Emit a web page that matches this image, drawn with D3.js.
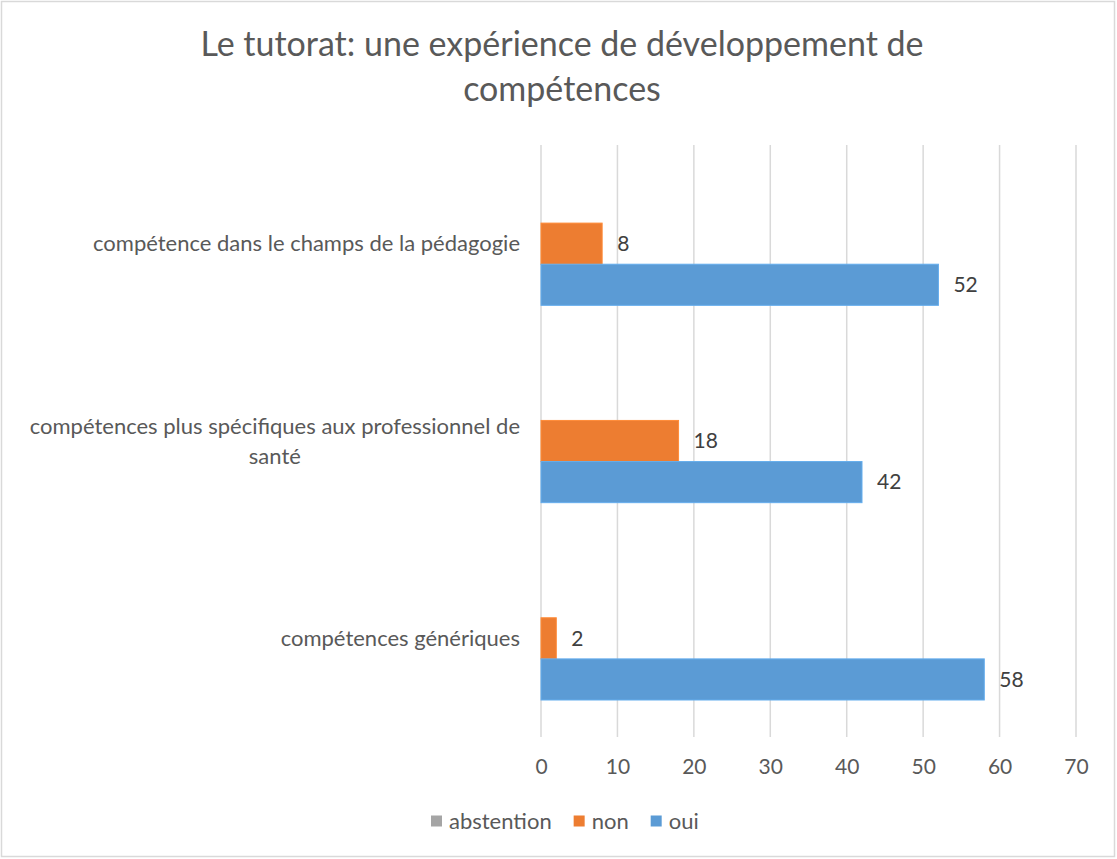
<!DOCTYPE html>
<html>
<head>
<meta charset="utf-8">
<script src="https://cdn.jsdelivr.net/npm/d3@7"></script>
<style>
  html, body { margin: 0; padding: 0; background: #fff; }
  svg { display: block; font-family: Lato, "Liberation Sans", sans-serif; }
</style>
</head>
<body>
<svg></svg>
<script>
const categories = [
    "compétence dans le champs de la pédagogie",
    "compétences plus spécifiques aux professionnel de santé",
    "compétences génériques"
];
const seriesNames = ["abstention", "non", "oui"];
const abstention = [0, 0, 0];
const non = [8, 18, 2];
const oui = [52, 42, 58];
const tickValues = [0, 10, 20, 30, 40, 50, 60, 70];
const titleLines = ["Le tutorat: une expérience de développement de", "compétences"];

const colors = { abstention: "#A5A5A5", non: "#ED7D31", oui: "#5B9BD5" };
const valuesBySeries = { abstention, non, oui };

const width = 1117, height = 859;
const svg = d3.select("svg").attr("width", width).attr("height", height);

svg.append("rect")
    .attr("x", 1.5).attr("y", 1.5)
    .attr("width", width - 4).attr("height", height - 4)
    .attr("fill", "#fff").attr("stroke", "#d9d9d9").attr("stroke-width", 1.5);

const plot = { left: 541, right: 1076, top: 145, bottom: 737 };

const x = d3.scaleLinear().domain([0, 70]).range([plot.left, plot.right]);
const y = d3.scaleBand()
    .domain(categories)
    .range([plot.top, plot.bottom])
    .paddingInner(0.375)
    .paddingOuter(0.1875);
const ySub = d3.scaleBand().domain(seriesNames).range([0, y.bandwidth()]);

// title
svg.append("text")
    .attr("x", 562).attr("y", 56)
    .attr("text-anchor", "middle")
    .attr("fill", "#595959")
    .style("font-size", "34px")
    .selectAll("tspan")
    .data(titleLines)
    .enter().append("tspan")
    .attr("x", 562)
    .attr("dy", (d, i) => i === 0 ? 0 : 45)
    .text(d => d);

// gridlines
svg.append("g")
    .selectAll("line")
    .data(tickValues)
    .enter().append("line")
    .attr("x1", d => x(d)).attr("x2", d => x(d))
    .attr("y1", plot.top).attr("y2", plot.bottom)
    .attr("stroke", "#d9d9d9").attr("stroke-width", 1.5);

// x axis labels
const xAxis = svg.append("g")
    .attr("transform", `translate(0,${plot.bottom})`)
    .call(d3.axisBottom(x).tickValues(tickValues).tickSize(0).tickPadding(22));
xAxis.select(".domain").remove();
xAxis.selectAll("text")
    .attr("fill", "#595959")
    .style("font-size", "21px")
    .style("font-family", "Lato, 'Liberation Sans', sans-serif");

// bars
const groups = svg.append("g")
    .selectAll("g")
    .data(categories)
    .enter().append("g")
    .attr("transform", d => `translate(0,${y(d)})`);

groups.selectAll("rect")
    .data((d, i) => seriesNames.map(s => ({ s, v: valuesBySeries[s][i] })))
    .enter().append("rect")
    .attr("x", x(0))
    .attr("y", d => ySub(d.s))
    .attr("width", d => x(d.v) - x(0))
    .attr("height", ySub.bandwidth())
    .attr("fill", d => colors[d.s])
    .attr("stroke", d => d.v > 0 ? d3.color(colors[d.s]).brighter(0.3) : "none")
    .attr("stroke-width", 1);

groups.selectAll("text")
    .data((d, i) => seriesNames.map(s => ({ s, v: valuesBySeries[s][i] })).filter(d => d.v > 0))
    .enter().append("text")
    .attr("x", d => x(d.v) + 15)
    .attr("y", d => ySub(d.s) + ySub.bandwidth() / 2)
    .attr("dy", "0.35em")
    .attr("fill", "#404040")
    .style("font-size", "21px")
    .text(d => d.v);

// category labels, wrapped
const labelRight = 520, maxLabelWidth = 512, lineHeight = 30;
categories.forEach(cat => {
    const t = svg.append("text")
        .attr("fill", "#595959")
        .style("font-size", "22px");
    const words = cat.split(" ");
    let lines = [], line = [];
    const probe = t.append("tspan");
    words.forEach(w => {
        line.push(w);
        probe.text(line.join(" "));
        if (probe.node().getComputedTextLength() > maxLabelWidth && line.length > 1) {
            line.pop();
            lines.push(line.join(" "));
            line = [w];
        }
    });
    lines.push(line.join(" "));
    probe.remove();
    const widths = lines.map(l => { const p = t.append("tspan").text(l); const w = p.node().getComputedTextLength(); p.remove(); return w; });
    const maxW = d3.max(widths);
    const cx = labelRight - maxW / 2;
    const cy = y(cat) + y.bandwidth() / 2 - (lines.length - 1) * lineHeight / 2;
    lines.forEach((l, i) => {
        t.append("tspan")
            .attr("x", lines.length > 1 ? cx : labelRight)
            .attr("text-anchor", lines.length > 1 ? "middle" : "end")
            .attr("y", cy + i * lineHeight)
            .attr("dy", "0.35em")
            .text(l);
    });
});

// legend
const legend = svg.append("g").attr("transform", "translate(431,821)");
let lx = 0;
seriesNames.forEach(s => {
    const item = legend.append("g").attr("transform", `translate(${lx},0)`);
    item.append("rect")
        .attr("x", 0).attr("y", -5.5)
        .attr("width", 11).attr("height", 11)
        .attr("fill", colors[s]);
    const txt = item.append("text")
        .attr("x", 18).attr("dy", "0.35em")
        .attr("fill", "#595959")
        .style("font-size", "22px")
        .text(s);
    lx += 18 + txt.node().getComputedTextLength() + 22;
});
</script>
</body>
</html>
